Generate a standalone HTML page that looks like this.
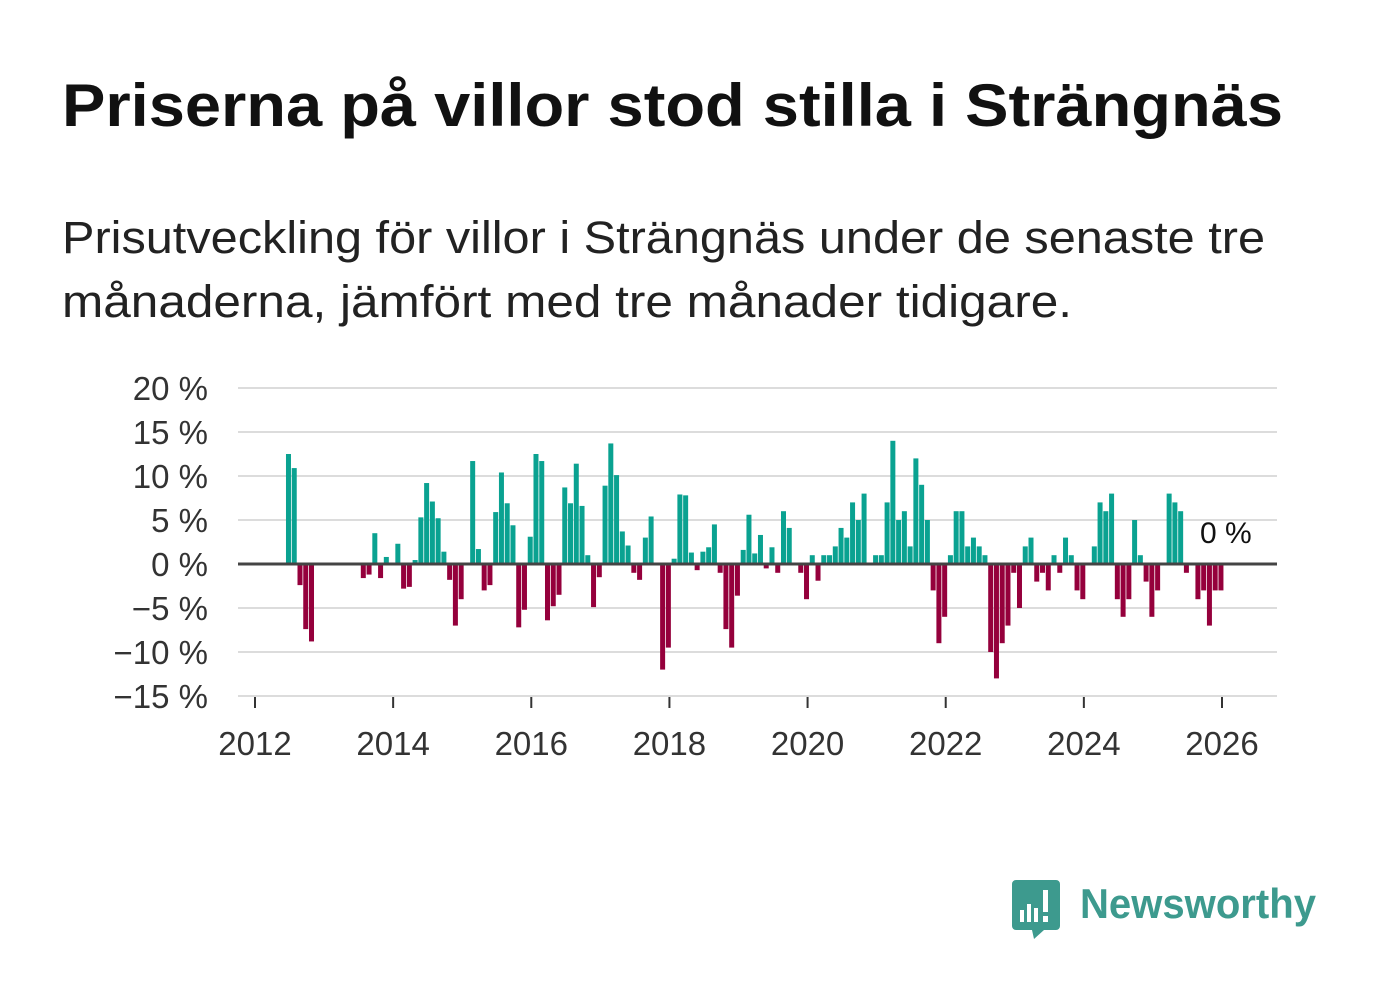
<!DOCTYPE html>
<html><head><meta charset="utf-8"><style>
html,body{margin:0;padding:0;background:#fff;}
svg{display:block;font-family:"Liberation Sans",sans-serif;}
</style></head><body>
<svg id="chart" width="1382" height="999" viewBox="0 0 1382 999" xmlns="http://www.w3.org/2000/svg">
<text x="62" y="126" font-size="60" font-weight="bold" fill="#111" textLength="1221" lengthAdjust="spacingAndGlyphs">Priserna på villor stod stilla i Strängnäs</text>
<text x="62" y="253" font-size="45" fill="#222" textLength="1203" lengthAdjust="spacingAndGlyphs">Prisutveckling för villor i Strängnäs under de senaste tre</text>
<text x="62" y="317" font-size="45" fill="#222" textLength="1010" lengthAdjust="spacingAndGlyphs">månaderna, jämfört med tre månader tidigare.</text>
<g id="grid"></g>
<g id="bars"></g>
<g id="axes"></g>
<g>
<path d="M1016 880 h40 a4 4 0 0 1 4 4 v42 a4 4 0 0 1 -4 4 h-12 l-10 9 l-2 -9 h-16 a4 4 0 0 1 -4 -4 v-42 a4 4 0 0 1 4 -4z" fill="#3d9a8e"/>
<rect x="1020" y="910" width="4" height="12" fill="#fff"/><rect x="1027" y="904" width="4" height="18" fill="#fff"/><rect x="1034" y="908" width="4" height="14" fill="#fff"/><rect x="1043" y="890" width="5" height="22" fill="#fff"/><rect x="1043" y="916" width="5" height="6" fill="#fff"/>
<text x="1080" y="918" font-size="42" font-weight="bold" fill="#3d9a8e" textLength="236" lengthAdjust="spacingAndGlyphs">Newsworthy</text>
</g>
</svg>
<script>
const startYear = 2012;
const values = [0,0,0,0,0,12.5,10.9,-2.4,-7.4,-8.8,0,0,0,0,0,0,0,0,-1.6,-1.2,3.5,-1.6,0.8,0,2.3,-2.8,-2.6,0.45,5.3,9.2,7.1,5.2,1.4,-1.8,-7.0,-4.0,0,11.7,1.7,-3.0,-2.4,5.9,10.4,6.9,4.4,-7.2,-5.2,3.1,12.5,11.7,-6.4,-4.8,-3.5,8.7,6.9,11.4,6.6,1.0,-4.9,-1.5,8.9,13.7,10.1,3.7,2.1,-1.0,-1.8,3.0,5.4,0,-12.0,-9.5,0.6,7.9,7.8,1.3,-0.7,1.4,1.9,4.5,-1.0,-7.4,-9.5,-3.6,1.6,5.6,1.2,3.3,-0.5,1.9,-1.0,6.0,4.1,0,-1.0,-4.0,1.0,-1.9,1.0,1.0,2.0,4.1,3.0,7.0,5.0,8.0,0,1.0,1.0,7.0,14.0,5.0,6.0,2.0,12.0,9.0,5.0,-3.0,-9.0,-6.0,1.0,6.0,6.0,2.0,3.0,2.0,1.0,-10.0,-13.0,-9.0,-7.0,-1.0,-5.0,2.0,3.0,-2.0,-1.0,-3.0,1.0,-1.0,3.0,1.0,-3.0,-4.0,0,2.0,7.0,6.0,8.0,-4.0,-6.0,-4.0,5.0,1.0,-2.0,-6.0,-3.0,0,8.0,7.0,6.0,-1.0,0,-4.0,-3.0,-7.0,-3.0,-3.0,0];
const yTicks = [20,15,10,5,0,-5,-10,-15];
const yTickLabels = ["20 %","15 %","10 %","5 %","0 %","\u22125 %","\u221210 %","\u221215 %"];
const xTicks = [2012,2014,2016,2018,2020,2022,2024,2026];
const lastLabel = "0 %";

const NS = "http://www.w3.org/2000/svg";
const x = yr => 255 + (yr - 2012) * (1222 - 255) / 14;
const xm = i => x(startYear + i / 12);
const y = v => 564 - v * 8.8;
function mk(tag, attrs, parent, txt) {
  const e = document.createElementNS(NS, tag);
  for (const k in attrs) e.setAttribute(k, attrs[k]);
  if (txt !== undefined) e.textContent = txt;
  parent.appendChild(e);
  return e;
}
const grid = document.getElementById('grid');
const bars = document.getElementById('bars');
const axes = document.getElementById('axes');
yTicks.forEach((t, k) => {
  if (t !== 0) {
    const l = mk('line', {x1: 238, x2: 1277, y1: y(t), y2: y(t), stroke: '#dcdcdc', 'stroke-width': 2}, grid);
    
    
  }
  const tl = mk('text', {x: 208, y: y(t) + 12, 'text-anchor': 'end', 'font-size': 33, fill: '#333'}, axes, yTickLabels[k]);
  
  
});
values.forEach((v, i) => {
  if (v === 0) return;
  const r = mk('rect', {x: xm(i) + 2.2, y: v > 0 ? y(v) : y(0), width: 5, height: Math.abs(y(v) - y(0)), fill: v > 0 ? '#0aa291' : '#95003c'}, bars);
  
  
});
const zl = mk('line', {x1: 238, x2: 1277, y1: y(0), y2: y(0), stroke: '#444', 'stroke-width': 3}, axes);


xTicks.forEach(t => {
  const tk = mk('line', {x1: x(t), x2: x(t), y1: 697, y2: 708, stroke: '#333', 'stroke-width': 2}, axes);
  
  
  const tl = mk('text', {x: x(t), y: 755, 'text-anchor': 'middle', 'font-size': 33, fill: '#333'}, axes, String(t));
  
  
});
const ll = mk('text', {x: 1200, y: 543, 'font-size': 30, fill: '#111'}, axes, lastLabel);


</script>
</body></html>
